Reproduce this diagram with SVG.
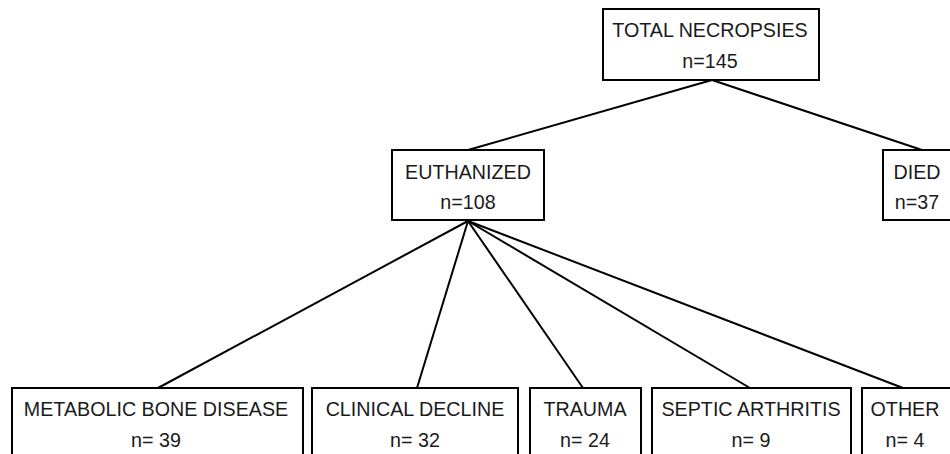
<svg xmlns="http://www.w3.org/2000/svg" width="950" height="454" viewBox="0 0 950 454">
<style>
.box{fill:#fff;stroke:#000;stroke-width:2}
.t{font-family:"Liberation Sans",Arial,sans-serif;font-size:19.7px;fill:#1a1a1a;text-anchor:middle}
.ln{stroke:#000;stroke-width:2;fill:none}
</style>
<rect width="950" height="454" fill="#fff"/>
<g id="connectors">
<line class="ln" x1="712" y1="80" x2="468" y2="150"/>
<line class="ln" x1="712" y1="80" x2="922" y2="150"/>
<line class="ln" x1="468" y1="221" x2="158" y2="388"/>
<line class="ln" x1="468" y1="221" x2="417" y2="388"/>
<line class="ln" x1="468" y1="221" x2="583" y2="388"/>
<line class="ln" x1="468" y1="221" x2="750" y2="388"/>
<line class="ln" x1="468" y1="221" x2="903" y2="388"/>
</g>
<g id="total">
<rect class="box" x="603" y="9" width="216" height="71"/>
<text class="t" x="710" y="37">TOTAL NECROPSIES</text>
<text class="t" x="710" y="68">n=145</text>
</g>
<g id="euthanized">
<rect class="box" x="392" y="150" width="152" height="70"/>
<text class="t" x="468" y="179">EUTHANIZED</text>
<text class="t" x="468" y="209">n=108</text>
</g>
<g id="died">
<rect class="box" x="883" y="150" width="76" height="70"/>
<text class="t" x="917" y="179">DIED</text>
<text class="t" x="917" y="209">n=37</text>
</g>
<g id="metabolic">
<rect class="box" x="12" y="388" width="291" height="80"/>
<text class="t" x="156" y="416">METABOLIC BONE DISEASE</text>
<text class="t" x="156" y="447">n= 39</text>
</g>
<g id="clinical">
<rect class="box" x="312" y="388" width="206" height="80"/>
<text class="t" x="415" y="416">CLINICAL DECLINE</text>
<text class="t" x="415" y="447">n= 32</text>
</g>
<g id="trauma">
<rect class="box" x="530" y="388" width="111" height="80"/>
<text class="t" x="585" y="416">TRAUMA</text>
<text class="t" x="585" y="447">n= 24</text>
</g>
<g id="septic">
<rect class="box" x="652" y="388" width="199" height="80"/>
<text class="t" x="751" y="416">SEPTIC ARTHRITIS</text>
<text class="t" x="751" y="447">n= 9</text>
</g>
<g id="other">
<rect class="box" x="862" y="388" width="90" height="80"/>
<text class="t" x="905" y="416">OTHER</text>
<text class="t" x="905" y="447">n= 4</text>
</g>
</svg>
